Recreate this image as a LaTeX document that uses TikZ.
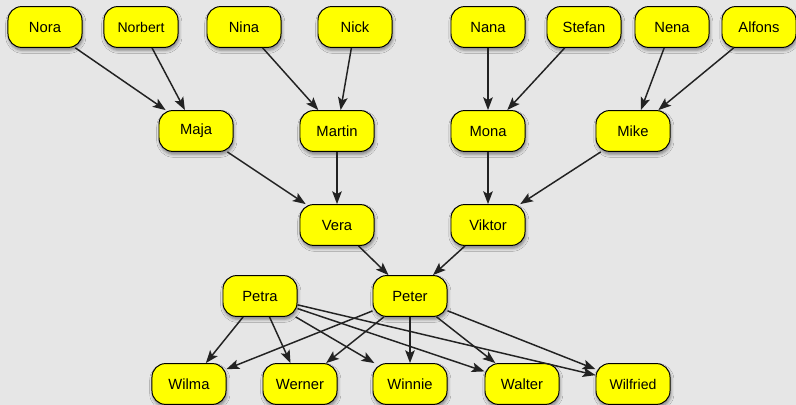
\documentclass[tikz,border=0pt]{standalone}
\usepackage{fontspec}
\setmainfont{Liberation Sans}
\usepackage{tikz}
\usetikzlibrary{arrows.meta,shadows.blur}
\definecolor{bggray}{RGB}{230,230,230}
\definecolor{pyellow}{RGB}{255,255,0}
\definecolor{edgedark}{RGB}{34,34,34}
\tikzset{
  person/.style={draw=black, line width=0.7pt, fill=pyellow, rounded corners=0.34cm,
      minimum width=1.85cm, minimum height=1.02cm, inner sep=0pt,
      font=\fontsize{10.5}{12}\selectfont,
      blur shadow={shadow xshift=0.6pt, shadow yshift=-2pt, shadow blur radius=2.2pt, shadow opacity=45}},
  psmall/.style={person, font=\fontsize{10}{12}\selectfont},
  rel/.style={-{Stealth[length=3.2mm, width=2.4mm, inset=0.7mm]}, edgedark, line width=1.05pt},
}

\begin{document}
\begin{tikzpicture}[x=0.025cm,y=-0.025cm]
\fill[bggray] (0,0) rectangle (796,405);
\useasboundingbox (0,0) rectangle (796,405);
% grandparents
\node[person] (nora)    at (45,27)  {Nora};
\node[psmall] (norbert) at (141,27) {Norbert};
\node[person] (nina)    at (244,27) {Nina};
\node[person] (nick)    at (355,27) {Nick};
\node[person] (nana)    at (488,27) {Nana};
\node[person] (stefan)  at (584,27) {Stefan};
\node[person] (nena)    at (672,27) {Nena};
\node[person] (alfons)  at (759,27) {Alfons};
% parents
\node[person] (maja)   at (196,131) {Maja};
\node[person] (martin) at (337,131) {Martin};
\node[person] (mona)   at (488,131) {Mona};
\node[person] (mike)   at (633,131) {Mike};
\node[person] (vera)   at (337,225) {Vera};
\node[person] (viktor) at (488,225) {Viktor};
\node[person] (petra)  at (260,296) {Petra};
\node[person] (peter)  at (410,296) {Peter};
% children
\node[person] (wilma)    at (189,384) {Wilma};
\node[person] (werner)   at (300,384) {Werner};
\node[person] (winnie)   at (410,384) {Winnie};
\node[person] (walter)   at (522,384) {Walter};
\node[psmall] (wilfried) at (633,384) {Wilfried};
% edges
\draw[rel] (nora) -- (maja);   \draw[rel] (norbert) -- (maja);
\draw[rel] (nina) -- (martin); \draw[rel] (nick) -- (martin);
\draw[rel] (nana) -- (mona);   \draw[rel] (stefan) -- (mona);
\draw[rel] (nena) -- (mike);   \draw[rel] (alfons) -- (mike);
\draw[rel] (maja) -- (vera);   \draw[rel] (martin) -- (vera);
\draw[rel] (mona) -- (viktor); \draw[rel] (mike) -- (viktor);
\draw[rel] (vera) -- (peter);  \draw[rel] (viktor) -- (peter);
\draw[rel] (petra) -- (wilma);  \draw[rel] (petra) -- (werner);
\draw[rel] (petra) -- (winnie); \draw[rel] (petra) -- (walter);
\draw[rel] (petra) -- (wilfried);
\draw[rel] (peter) -- (wilma);  \draw[rel] (peter) -- (werner);
\draw[rel] (peter) -- (winnie); \draw[rel] (peter) -- (walter);
\draw[rel] (peter) -- (wilfried);
\end{tikzpicture}
\end{document}
